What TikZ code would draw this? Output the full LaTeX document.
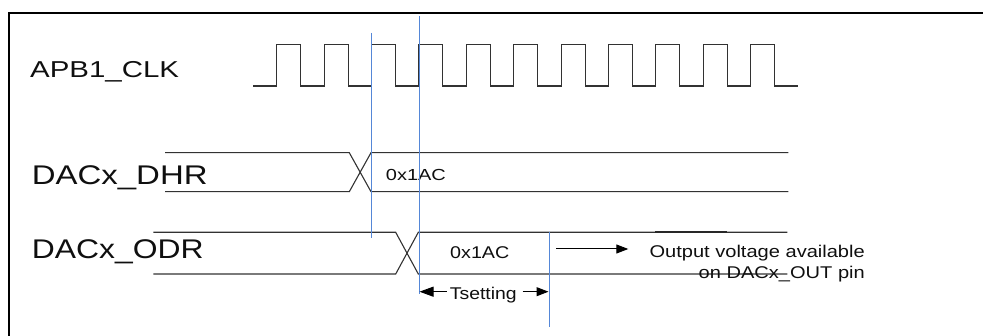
\documentclass[tikz,border=0pt]{standalone}
\usepackage{fontspec}
\setmainfont{Liberation Sans}
\usepackage{graphicx}
\usepackage{tikz}
\usetikzlibrary{arrows.meta, positioning, calc}
\definecolor{wavegray}{RGB}{50, 50, 50}
\definecolor{markerblue}{RGB}{85, 135, 215}
\definecolor{textblack}{RGB}{15, 15, 15}
\newcommand{\wtext}[2][1.22]{\scalebox{#1}[1]{#2}}
\tikzset{
  signame/.style={anchor=base west, inner sep=0pt, text=textblack,
              font=\fontsize{27}{30}\selectfont},
  busval/.style={anchor=base west, inner sep=0pt, text=textblack,
              font=\fontsize{#1}{18}\selectfont},
  busval/.default=16,
  note/.style={anchor=base east, inner sep=0pt, text=textblack,
              font=\fontsize{17}{20}\selectfont},
  wave/.style={line width=1.1pt, color=wavegray},
  marker/.style={line width=0.9pt, color=markerblue},
  arrow/.style={-{Triangle[length=12pt, width=9pt]}, line width=1pt, color=black},
}

\begin{document}
\begin{tikzpicture}[x=1pt, y=-1pt]
  \useasboundingbox (0,0) rectangle (983,336);
  % Frame
  \draw[line width=2.3pt] (8.7,345) -- (8.7,12.8) -- (995,12.8);
  % Signal names
  \node[signame, font=\fontsize{23}{26}\selectfont] (clkname) at (30,77.7) {\wtext[1.28]{APB1\_CLK}};
  \node[signame] (dhrname) at (31.7,185) {\wtext{DACx\_DHR}};
  \node[signame] (odrname) at (31.7,258.7) {\wtext[1.18]{DACx\_ODR}};
  % Clock
  \draw[wave] (253,86)
    \foreach \k in {0,...,10}{
      -- ({276.7+47.4*\k},86) -- ++(0,-41.7) -- ++(24,0) -- ++(0,41.7)
    } -- (798.3,86);
  % DACx_DHR bus
  \draw[wave] (165,152.7) -- (349.3,152.7) -- (371,191.7) -- (788.3,191.7);
  \draw[wave] (165,191.7) -- (349.3,191.7) -- (371,152.7) -- (788.3,152.7);
  \node[busval] (dhrval) at (385.7,180.7) {\wtext[1.25]{0x1AC}};
  % DACx_ODR bus
  \draw[wave] (153.3,232.3) -- (395.7,232.3) -- (418.3,274) -- (787.3,274);
  \draw[wave] (153.3,274) -- (395.7,274) -- (418.3,232.3) -- (787.3,232.3);
  \draw[line width=1.6pt, color=wavegray!80!black] (655,232.3) -- (727,232.3);
  \node[busval=17] (odrval) at (450,259) {\wtext[1.16]{0x1AC}};
  % Marker lines
  \draw[marker] (371.7,33) -- (371.7,238.3);
  \draw[marker] (419,16) -- (419,294);
  \draw[marker] (549.3,232.3) -- (549.3,327.3);
  % Output note
  \node[note] (outa) at (865,257.3) {\wtext[1.18]{Output voltage available}};
  \node[note] (outb) at (865,278.3) {\wtext[1.18]{on DACx\_OUT pin}};
  \coordinate (outstart) at (556,249);
  \draw[arrow] (outstart) -- (628.3,249);
  % Settling time
  \node[busval=17, anchor=base] (tset) at (483.3,299.3) {\wtext[1.14]{Tsetting}};
  \coordinate (tsetl) at (419.5,291.7);
  \coordinate (tsetr) at (548.5,291.7);
  \draw[arrow, -{Triangle[length=14pt, width=10pt]}] (446.5,291.7) -- (tsetl);
  \draw[arrow] (522.7,291.7) -- (tsetr);
\end{tikzpicture}
\end{document}
